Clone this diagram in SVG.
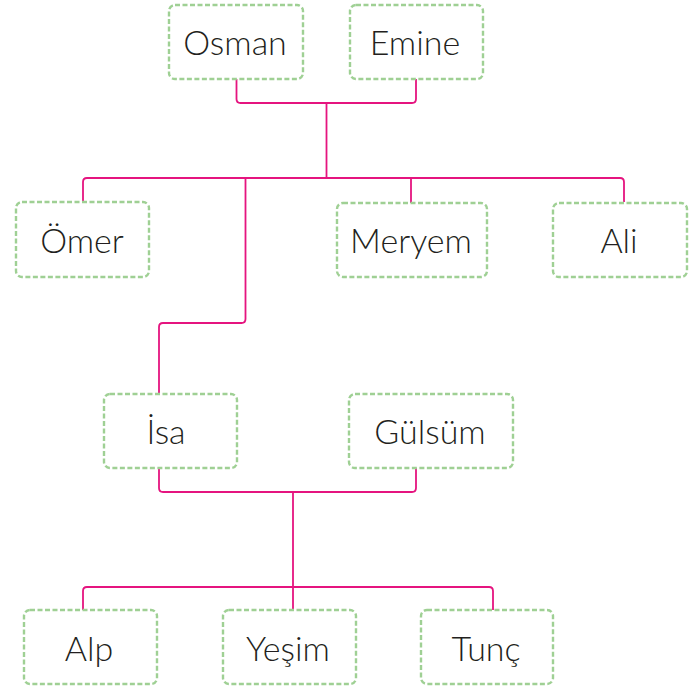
<svg xmlns="http://www.w3.org/2000/svg" width="697" height="688" viewBox="0 0 697 688">
<defs>
<style>
.box{fill:#ffffff;stroke:#9fd094;stroke-width:2.4;stroke-dasharray:5 2.5}
.lbl{font-family:Lato,"Open Sans",sans-serif;font-size:34px;font-weight:300;fill:#231f20;text-anchor:middle}
.con{fill:none;stroke:#e5147f;stroke-width:1.8;stroke-linejoin:round}
</style>
</defs>
<rect width="697" height="688" fill="#ffffff"/>
<g id="connectors">
<path class="con" d="M236.5,79 V99 Q236.5,103 240.5,103 H412 Q416,103 416,99 V79"/>
<path class="con" d="M326.5,103 V178"/>
<path class="con" d="M83,202 V182 Q83,178 87,178 H620 Q624,178 624,182 V202"/>
<path class="con" d="M411,178 V203"/>
<path class="con" d="M245.5,178 V319 Q245.5,323 241.5,323 H163 Q159,323 159,327 V394"/>
<path class="con" d="M159,468 V488 Q159,492 163,492 H412 Q416,492 416,488 V468"/>
<path class="con" d="M293,492 V610"/>
<path class="con" d="M83,610 V591 Q83,587 87,587 H489 Q493,587 493,591 V610"/>
</g>
<g id="osman"><rect class="box" x="169" y="5" width="134" height="74" rx="6"/><text class="lbl" x="235" y="55">Osman</text></g>
<g id="emine"><rect class="box" x="350" y="5" width="133" height="74" rx="6"/><text class="lbl" x="415" y="55">Emine</text></g>
<g id="omer"><rect class="box" x="16" y="202" width="133" height="75" rx="6"/><text class="lbl" x="82" y="253">Ömer</text></g>
<g id="meryem"><rect class="box" x="337" y="203" width="150" height="74" rx="6"/><text class="lbl" x="411" y="253">Meryem</text></g>
<g id="ali"><rect class="box" x="553" y="203" width="134" height="74" rx="6"/><text class="lbl" x="619" y="253">Ali</text></g>
<g id="isa"><rect class="box" x="104" y="394" width="133" height="74" rx="6"/><text class="lbl" x="166" y="444">İsa</text></g>
<g id="gulsum"><rect class="box" x="349" y="394" width="164" height="74" rx="6"/><text class="lbl" x="430" y="444">Gülsüm</text></g>
<g id="alp"><rect class="box" x="24" y="610" width="133" height="74" rx="6"/><text class="lbl" x="89" y="661">Alp</text></g>
<g id="yesim"><rect class="box" x="223" y="610" width="133" height="74" rx="6"/><text class="lbl" x="288" y="661">Yeşim</text></g>
<g id="tunc"><rect class="box" x="421" y="610" width="132" height="74" rx="6"/><text class="lbl" x="486" y="661">Tunç</text></g>
</svg>
